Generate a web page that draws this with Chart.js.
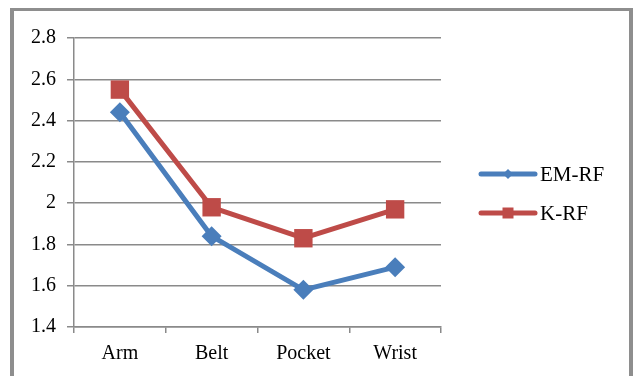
<!DOCTYPE html>
<html>
<head>
<meta charset="utf-8">
<script src="https://cdn.jsdelivr.net/npm/chart.js@4/dist/chart.umd.min.js"></script>
<style>
  html, body { margin: 0; padding: 0; background: #fff; }
  #wrap { position: relative; width: 634px; height: 376px; overflow: hidden; }
  #frame {
    position: absolute; left: 10px; top: 8px; width: 623px; height: 420px;
    box-sizing: border-box; border-style: solid; border-color: #8e8e8e;
    border-width: 3px 4px 0 4px;
  }
  #chart { position: absolute; left: 0; top: 0; }
</style>
</head>
<body>
<div id="wrap">
  <div id="frame"></div>
  <canvas id="chart" width="634" height="376"></canvas>
</div>
<script>
// Placement categories and the two classifier series
const categories = ['Arm', 'Belt', 'Pocket', 'Wrist'];
const emRfValues = [2.44, 1.84, 1.58, 1.69];
const kRfValues = [2.55, 1.98, 1.83, 1.97];
const seriesNames = ['EM-RF', 'K-RF'];
const yTickValues = [1.4, 1.6, 1.8, 2.0, 2.2, 2.4, 2.6, 2.8];

const GRID = '#8a8a8a';
const FONT = '"Liberation Serif", "Times New Roman", serif';
const BLUE = '#4A7EBB';
const RED = '#BE4B48';

// Legend on the right: a short line with the series marker, then its name
const sideLegend = {
  id: 'sideLegend',
  afterDraw(chart) {
    const ctx = chart.ctx;
    const rows = [174, 213];
    const x0 = 481, x1 = 535, textX = 540;
    chart.data.datasets.forEach((ds, i) => {
      const y = rows[i];
      const mx = (x0 + x1) / 2;
      ctx.save();
      ctx.strokeStyle = ds.borderColor;
      ctx.lineWidth = 5;
      ctx.lineCap = 'round';
      ctx.beginPath();
      ctx.moveTo(x0, y);
      ctx.lineTo(x1, y);
      ctx.stroke();
      ctx.fillStyle = ds.pointBackgroundColor;
      ctx.beginPath();
      if (ds.pointStyle === 'rectRot') {
        const r = 5;
        ctx.moveTo(mx, y - r); ctx.lineTo(mx + r, y);
        ctx.lineTo(mx, y + r); ctx.lineTo(mx - r, y);
        ctx.closePath();
      } else {
        ctx.rect(mx - 5.5, y - 5.5, 11, 11);
      }
      ctx.fill();
      ctx.fillStyle = '#000';
      ctx.font = '21px ' + FONT;
      ctx.textAlign = 'left';
      ctx.textBaseline = 'middle';
      ctx.fillText(ds.label, textX, y + 1);
      ctx.restore();
    });
  }
};

new Chart(document.getElementById('chart'), {
  type: 'line',
  data: {
    labels: categories,
    datasets: [
      {
        label: seriesNames[0],
        data: emRfValues,
        borderColor: BLUE,
        backgroundColor: BLUE,
        pointBackgroundColor: BLUE,
        pointBorderColor: BLUE,
        borderWidth: 5,
        pointStyle: 'rectRot',
        pointRadius: 10,
        pointBorderWidth: 0,
        borderJoinStyle: 'round',
        borderCapStyle: 'round',
        tension: 0,
        order: 1
      },
      {
        label: seriesNames[1],
        data: kRfValues,
        borderColor: RED,
        backgroundColor: RED,
        pointBackgroundColor: RED,
        pointBorderColor: RED,
        borderWidth: 5,
        pointStyle: 'rect',
        pointRadius: 13,
        pointBorderWidth: 0,
        borderJoinStyle: 'round',
        borderCapStyle: 'round',
        tension: 0,
        order: 0
      }
    ]
  },
  options: {
    responsive: false,
    animation: false,
    devicePixelRatio: 1,
    layout: { padding: { left: 0, top: 38, right: 193, bottom: 0 } },
    plugins: {
      legend: { display: false },
      tooltip: { enabled: false }
    },
    scales: {
      x: {
        type: 'category',
        offset: true,
        grid: {
          offset: true,
          drawOnChartArea: false,
          drawTicks: true,
          tickLength: 6,
          color: GRID,
          lineWidth: 1.5
        },
        border: { display: true, color: GRID, width: 1.5 },
        ticks: {
          color: '#000',
          font: { family: FONT, size: 20 },
          padding: 9,
          maxRotation: 0,
          autoSkip: false
        },
        afterFit(scale) { scale.height = 49; }
      },
      y: {
        min: 1.4,
        max: 2.8,
        afterBuildTicks(scale) {
          scale.ticks = yTickValues.map(v => ({ value: v }));
        },
        grid: {
          color: GRID,
          lineWidth: 1.5,
          drawTicks: true,
          tickLength: 7
        },
        border: { display: true, color: GRID, width: 1.5 },
        ticks: {
          color: '#000',
          font: { family: FONT, size: 20 },
          padding: 11,
          callback: v => String(Math.round(v * 10) / 10)
        },
        afterFit(scale) { scale.width = 74; }
      }
    }
  },
  plugins: [sideLegend]
});
</script>
</body>
</html>
